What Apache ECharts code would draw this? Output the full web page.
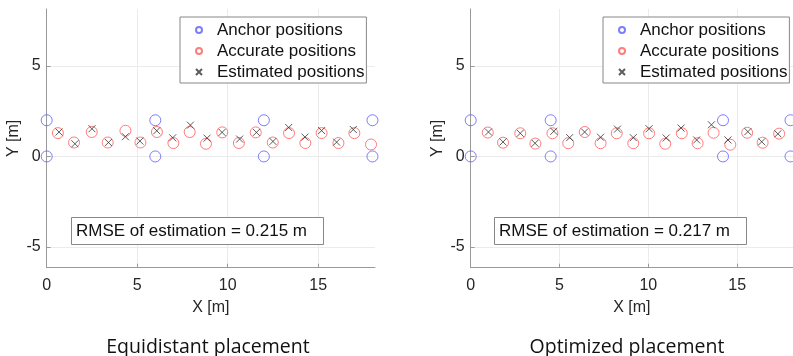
<!DOCTYPE html>
<html>
<head>
<meta charset="utf-8">
<script src="https://cdn.jsdelivr.net/npm/echarts@6/dist/echarts.min.js"></script>
<style>
  html, body { margin: 0; padding: 0; background: #fff; }
  #main { width: 793px; height: 356px; }
</style>
</head>
<body>
<div id="main"></div>
<script>
// equidistant placement
var eqAnchorX = [0, 0, 6, 6, 12, 12, 18, 18];
var eqAnchorY = [0, 2, 0, 2, 0, 2, 0, 2];
var eqTrueX = [0.62, 1.51, 2.49, 3.37, 4.35, 5.18, 6.09, 7.0, 7.9, 8.8, 9.7, 10.62, 11.55, 12.49, 13.39, 14.29, 15.19, 16.12, 17.0, 17.92];
var eqTrueY = [1.29, 0.77, 1.35, 0.77, 1.42, 0.77, 1.35, 0.74, 1.35, 0.7, 1.33, 0.74, 1.33, 0.77, 1.29, 0.74, 1.29, 0.74, 1.29, 0.66];
var eqEstX = [0.68, 1.56, 2.5, 3.41, 4.35, 5.15, 6.08, 6.96, 7.94, 8.86, 9.69, 10.66, 11.59, 12.5, 13.37, 14.27, 15.19, 16.02, 16.94];
var eqEstY = [1.35, 0.7, 1.53, 0.77, 1.09, 0.85, 1.42, 1.03, 1.73, 1.01, 1.33, 0.96, 1.33, 0.83, 1.6, 1.07, 1.43, 0.79, 1.49];

// optimized placement
var opAnchorX = [0, 0, 4.5, 4.5, 14.2, 14.2, 18, 18];
var opAnchorY = [0, 2, 0, 2, 0, 2, 0, 2];
var opTrueX = [0.96, 1.82, 2.79, 3.64, 4.6, 5.49, 6.42, 7.31, 8.22, 9.15, 10.04, 10.95, 11.88, 12.77, 13.67, 14.61, 15.56, 16.43, 17.36];
var opTrueY = [1.32, 0.76, 1.28, 0.71, 1.28, 0.73, 1.35, 0.73, 1.28, 0.73, 1.28, 0.7, 1.28, 0.73, 1.31, 0.65, 1.31, 0.76, 1.26];
var opEstX = [1.0, 1.82, 2.79, 3.62, 4.68, 5.57, 6.41, 7.31, 8.26, 9.15, 10.04, 11.0, 11.84, 12.72, 13.55, 14.48, 15.6, 16.38, 17.29];
var opEstY = [1.35, 0.8, 1.28, 0.73, 1.39, 1.04, 1.35, 1.06, 1.51, 1.04, 1.53, 1.02, 1.57, 0.91, 1.75, 0.91, 1.37, 0.81, 1.25];

var seriesNames = ['Anchor positions', 'Accurate positions', 'Estimated positions'];
var rmseTexts = ['RMSE of estimation = 0.215 m', 'RMSE of estimation = 0.217 m'];
var captions = ['Equidistant placement', 'Optimized placement'];

function zip(xs, ys) {
    return xs.map(function (x, i) { return [x, ys[i]]; });
}

var font = 'Liberation Sans';
var axisGray = '#9a9a9a';
var crossPath = 'path://M0,0L1,1M1,0L0,1';

function makeX(idx) {
    return {
        type: 'value', gridIndex: idx, min: 0, max: 18.14, interval: 5,
        name: 'X [m]', nameLocation: 'middle', nameGap: 32,
        nameTextStyle: { fontFamily: font, fontSize: 16, color: '#262626' },
        axisLine: { onZero: false, lineStyle: { color: axisGray, width: 1 } },
        axisTick: { show: true, inside: true, length: 4, lineStyle: { color: axisGray } },
        axisLabel: { margin: 10, fontFamily: font, fontSize: 16, color: '#262626', showMaxLabel: false },
        splitLine: { show: true, showMaxLine: false, lineStyle: { color: '#ebebeb', width: 1 } }
    };
}

function makeY(idx) {
    return {
        type: 'value', gridIndex: idx, min: -6.15, max: 8.15, splitNumber: 3,
        name: 'Y [m]', nameLocation: 'middle', nameGap: 25, nameRotate: 90,
        nameTextStyle: { fontFamily: font, fontSize: 16, color: '#262626' },
        axisLine: { show: true, onZero: false, lineStyle: { color: axisGray, width: 1 } },
        axisTick: { show: true, inside: true, length: 4, lineStyle: { color: axisGray } },
        axisLabel: { margin: 6, fontFamily: font, fontSize: 16, color: '#262626', showMinLabel: false, showMaxLabel: false },
        splitLine: { show: true, showMinLine: false, showMaxLine: false, lineStyle: { color: '#ebebeb', width: 1 } }
    };
}

function makeSeries(idx, anchors, truth, est) {
    return [{
        name: seriesNames[0], type: 'scatter', xAxisIndex: idx, yAxisIndex: idx,
        symbol: 'circle', symbolSize: 11, data: anchors,
        itemStyle: { color: 'transparent', borderColor: '#5c5cff', borderWidth: 1 }
    }, {
        name: seriesNames[1], type: 'scatter', xAxisIndex: idx, yAxisIndex: idx,
        symbol: 'circle', symbolSize: 11, data: truth,
        itemStyle: { color: 'transparent', borderColor: '#ff5c5c', borderWidth: 1 }
    }, {
        name: seriesNames[2], type: 'scatter', xAxisIndex: idx, yAxisIndex: idx,
        symbol: crossPath, symbolSize: 7, data: est,
        itemStyle: { color: 'transparent', borderColor: '#333', borderWidth: 1 }
    }];
}

function makeLegend(left) {
    return {
        data: seriesNames, orient: 'vertical', left: left, top: 17,
        itemWidth: 26, itemHeight: 6, itemGap: 1, selectedMode: false,
        padding: [3, 2, 1, 15],
        backgroundColor: '#fff', borderColor: '#888', borderWidth: 1,
        textStyle: { fontFamily: font, fontSize: 17, color: '#111', lineHeight: 20 }
    };
}

function makeBox(left, text) {
    return {
        text: text, left: left, top: 217, padding: [5, 17, 5, 5],
        backgroundColor: '#fff', borderColor: '#888', borderWidth: 1,
        textStyle: { fontFamily: font, fontSize: 17, fontWeight: 'normal', color: '#111', lineHeight: 18 }
    };
}

function makeCaption(center, text) {
    return {
        text: text, left: center, top: 336, textAlign: 'center', padding: 0,
        textStyle: { fontFamily: 'Open Sans', fontSize: 19.5, fontWeight: 'normal', color: '#111', lineHeight: 22 }
    };
}

var myChart = echarts.init(document.getElementById('main'));

option = {
    animation: false,
    backgroundColor: '#fff',
    title: [
        makeBox(71, rmseTexts[0]),
        makeBox(494, rmseTexts[1]),
        makeCaption(208, captions[0]),
        makeCaption(627, captions[1])
    ],
    legend: [makeLegend(180), makeLegend(603)],
    grid: [
        { left: 46.7, top: 9, width: 328.3, height: 258.7 },
        { left: 470.7, top: 9, width: 326.5, height: 258.7 }
    ],
    xAxis: [makeX(0), makeX(1)],
    yAxis: [makeY(0), makeY(1)],
    series: makeSeries(0, zip(eqAnchorX, eqAnchorY), zip(eqTrueX, eqTrueY), zip(eqEstX, eqEstY))
        .concat(makeSeries(1, zip(opAnchorX, opAnchorY), zip(opTrueX, opTrueY), zip(opEstX, opEstY)))
};
myChart.setOption(option);
</script>
</body>
</html>
